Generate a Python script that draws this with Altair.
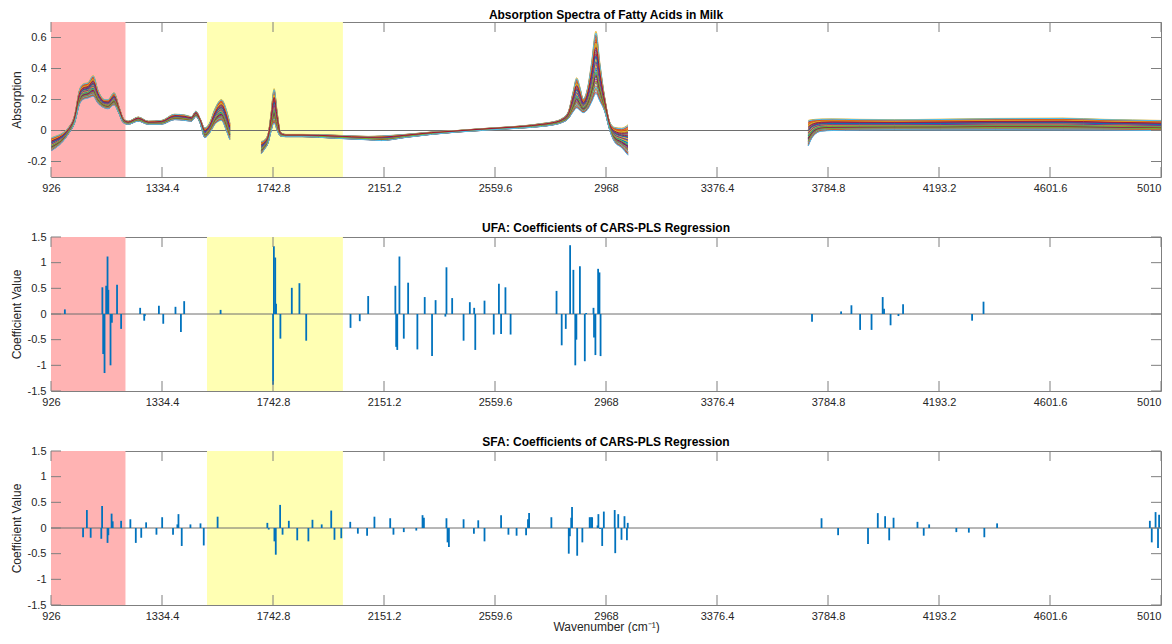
import pandas as pd
import altair as alt

# ---------------- data ----------------
X_TICKS = [926, 1334.4, 1742.8, 2151.2, 2559.6, 2968, 3376.4, 3784.8, 4193.2, 4601.6, 5010]
SPEC_Y_TICKS = [-0.2, 0, 0.2, 0.4, 0.6]
COEF_Y_TICKS = [-1.5, -1, -0.5, 0, 0.5, 1, 1.5]

REGION_START = [926, 1500]
REGION_END = [1200, 2000]
REGION_COLOR = ["#FFB3B3", "#FFFFB3"]

# spectra: upper / lower envelope of the sample band, per measured segment
SEG1_WN = [928, 945, 965, 989, 1013, 1032, 1044, 1063, 1081, 1099, 1124, 1136, 1158, 1176, 1192,
           1210, 1247, 1284, 1332, 1381, 1418, 1443, 1459, 1474, 1492, 1510, 1529, 1553, 1572, 1584]
SEG1_HI = [-0.046, -0.035, -0.02, 0.017, 0.10, 0.27, 0.30, 0.31, 0.355, 0.26, 0.20, 0.20, 0.245, 0.155, 0.08,
           0.06, 0.087, 0.06, 0.065, 0.105, 0.10, 0.09, 0.125, 0.08, 0.017, 0.05, 0.14, 0.20, 0.13, 0.05]
SEG1_LO = [-0.13, -0.11, -0.08, -0.025, 0.05, 0.175, 0.20, 0.21, 0.22, 0.175, 0.145, 0.14, 0.165, 0.11, 0.05,
           0.04, 0.06, 0.04, 0.04, 0.07, 0.065, 0.06, 0.09, 0.05, -0.046, -0.015, 0.04, 0.065, -0.005, -0.06]

SEG2_WN = [1700, 1712, 1725, 1735, 1747, 1758, 1770, 1790, 1850, 1970, 2093, 2142, 2230, 2326, 2420,
           2510, 2600, 2694, 2731, 2770, 2804, 2829, 2847, 2860, 2872, 2884, 2902, 2915, 2931, 2945,
           2964, 2982, 3000, 3025, 3049]
SEG2_HI = [-0.07, -0.06, -0.02, 0.10, 0.27, 0.12, -0.01, -0.025, -0.025, -0.03, -0.038, -0.035, -0.025, -0.01, 0.0,
           0.012, 0.022, 0.036, 0.045, 0.055, 0.075, 0.12, 0.25, 0.34, 0.28, 0.205, 0.29, 0.44, 0.64, 0.44,
           0.205, 0.054, 0.02, 0.015, 0.037]
SEG2_LO = [-0.15, -0.12, -0.08, -0.01, 0.05, 0.0, -0.035, -0.04, -0.04, -0.05, -0.06, -0.065, -0.045, -0.025, -0.01,
           0.0, 0.01, 0.02, 0.026, 0.035, 0.05, 0.075, 0.12, 0.145, 0.13, 0.115, 0.14, 0.183, 0.237, 0.19,
           0.12, 0.0, -0.075, -0.11, -0.16]

SEG3_WN = [3712, 3725, 3740, 3760, 3800, 3900, 4030, 4200, 4400, 4650, 4800, 5010]
SEG3_HI = [0.065, 0.07, 0.072, 0.074, 0.075, 0.072, 0.07, 0.073, 0.078, 0.08, 0.072, 0.065]
SEG3_LO = [-0.10, -0.05, -0.02, -0.005, 0.0, 0.003, 0.005, 0.004, 0.005, 0.004, 0.003, 0.0]

# position of each milk sample inside the band (0 = lowest, 1 = highest)
SAMPLE_POS = [0.52, 0.13, 0.88, 0.31, 0.67, 0.05, 0.94, 0.42, 0.21, 0.76, 0.58, 0.09, 0.36, 0.83,
              0.27, 0.61, 1.0, 0.17, 0.47, 0.72, 0.02, 0.39, 0.91, 0.55, 0.24, 0.79, 0.11, 0.64,
              0.33, 0.86, 0.45, 0.70, 0.19, 0.97, 0.29, 0.60, 0.07, 0.81, 0.50, 0.35, 0.0, 0.74]
MATLAB_COLORS = ["#0072BD", "#D95319", "#EDB120", "#7E2F8E", "#77AC30", "#4DBEEE", "#A2142F"]

UFA_WN = [977, 1115, 1118, 1123, 1129, 1134, 1137, 1145, 1150, 1169, 1184, 1254, 1269, 1271, 1323,
          1339, 1384, 1404, 1416, 1550, 1743, 1746, 1751, 1754, 1770, 1812, 1840, 1865, 2028, 2062,
          2093, 2193, 2196, 2200, 2208, 2224, 2240, 2274, 2301, 2328, 2341, 2377, 2381, 2402, 2444,
          2467, 2483, 2487, 2521, 2555, 2574, 2582, 2598, 2617, 2786, 2805, 2820, 2836, 2848, 2855,
          2859, 2872, 2890, 2895, 2922, 2924, 2929, 2939, 2944, 2948, 3726, 3833, 3871, 3903, 3945,
          3986, 3991, 4015, 4044, 4061, 4315, 4357]
UFA_VAL = [0.09, 0.52, -0.78, -1.15, 0.55, 1.12, 0.47, -1.0, -0.17, 0.57, -0.29, 0.12, -0.13, -0.04, 0.16,
           -0.19, 0.14, -0.35, 0.25, 0.08, -1.38, 1.32, 1.1, 0.2, -0.48, 0.51, 0.6, -0.52, -0.27, -0.14,
           0.35, 0.55, -0.64, -0.7, 1.12, -0.48, 0.61, -0.69, 0.33, -0.82, 0.27, -0.05, 0.91, 0.31, -0.52,
           0.23, 0.12, -0.7, 0.26, -0.4, 0.59, -0.39, 0.52, -0.4, 0.45, -0.61, -0.29, 1.34, 0.86, -1.0,
           -0.5, 0.93, -0.92, 0.02, 0.12, -0.46, -0.8, 0.88, 0.81, -0.82, -0.15, 0.05, 0.17, -0.31, -0.31,
           0.33, 0.1, -0.22, -0.04, 0.19, -0.13, 0.24]

SFA_WN = [1044, 1058, 1072, 1111, 1114, 1134, 1137, 1149, 1153, 1184, 1218, 1238, 1258, 1276, 1314,
          1335, 1375, 1391, 1395, 1407, 1439, 1476, 1488, 1539, 1722, 1727, 1748, 1753, 1769, 1778,
          1801, 1832, 1873, 1888, 1922, 1957, 1969, 1994, 2027, 2055, 2089, 2116, 2174, 2186, 2224,
          2270, 2293, 2298, 2381, 2385, 2390, 2444, 2482, 2498, 2521, 2582, 2609, 2639, 2674, 2681,
          2685, 2767, 2831, 2835, 2840, 2843, 2862, 2881, 2908, 2913, 2917, 2937, 2940, 2946, 2954,
          2960, 3000, 3002, 3013, 3025, 3036, 3045, 3048, 3761, 3822, 3932, 3968, 3995, 4010, 4026,
          4114, 4137, 4157, 4257, 4303, 4360, 4407, 4969, 4976, 4990, 4999, 5003]
SFA_VAL = [-0.18, 0.35, -0.19, -0.21, 0.43, -0.29, -0.14, 0.28, 0.13, 0.14, 0.17, -0.29, -0.19, 0.11, -0.13,
           0.21, -0.13, 0.07, 0.27, -0.35, 0.07, 0.09, -0.34, 0.22, 0.1, -0.03, -0.26, -0.52, 0.45, -0.13,
           0.14, -0.24, -0.26, 0.16, 0.07, 0.34, -0.23, -0.2, 0.12, -0.11, -0.15, 0.22, 0.19, -0.13, -0.08,
           -0.05, 0.25, 0.2, 0.19, -0.28, -0.37, 0.17, -0.11, 0.15, -0.26, 0.25, -0.13, -0.15, -0.14, 0.17,
           0.29, 0.21, -0.5, -0.16, 0.2, 0.41, -0.54, -0.28, 0.21, 0.21, 0.21, 0.05, 0.27, -0.02, -0.35,
           0.32, 0.35, -0.49, 0.27, -0.23, 0.23, -0.24, 0.1, 0.19, -0.14, -0.31, 0.29, 0.23, -0.24, 0.2,
           0.12, -0.15, 0.07, -0.08, -0.09, -0.18, 0.09, 0.14, -0.28, 0.31, -0.39, 0.26]

# ---------------- tables ----------------
segments = [(SEG1_WN, SEG1_HI, SEG1_LO), (SEG2_WN, SEG2_HI, SEG2_LO), (SEG3_WN, SEG3_HI, SEG3_LO)]
rows = []
for si, pos in enumerate(SAMPLE_POS):
    for sg, (wns, his, los) in enumerate(segments):
        for x, h, l in zip(wns, his, los):
            rows.append({"wn": x, "val": l + pos * (h - l), "key": f"{si}-{sg}", "ci": str(si % 7)})
spec_df = pd.DataFrame(rows)

regions_df = pd.DataFrame({"wn": REGION_START, "wn2": REGION_END, "c": REGION_COLOR})
ufa_df = pd.DataFrame({"wn": UFA_WN, "val": UFA_VAL})
sfa_df = pd.DataFrame({"wn": SFA_WN, "val": SFA_VAL})
xt_df = pd.DataFrame({"wn": X_TICKS})
zero_df = pd.DataFrame({"val": [0]})

W = 1110
AX = "#7f7f7f"
FONT = "Liberation Sans"
TICK = 10
LAST_LABEL_ALIGN = {"condition": {"test": "datum.value >= 5010", "value": "right"}, "value": "center"}


def make_panel(H, title, y_domain, y_ticks, ytitle, body_layers, xtitle=None, title_dy=0):
    xaxis_kwargs = dict(values=X_TICKS, labelExpr="'' + datum.value", labelPadding=5,
                        labelFlush=False, labelOverlap=False, labelAlign=LAST_LABEL_ALIGN)
    if xtitle:
        X = alt.X("wn:Q", scale=alt.Scale(domain=[926, 5010], nice=False, zero=False),
                  axis=alt.Axis(title=xtitle, titlePadding=0, **xaxis_kwargs), title=xtitle)
    else:
        X = alt.X("wn:Q", scale=alt.Scale(domain=[926, 5010], nice=False, zero=False),
                  axis=alt.Axis(title=None, **xaxis_kwargs), title=None)
    Y = alt.Y("val:Q", scale=alt.Scale(domain=y_domain, nice=False, zero=False),
              axis=alt.Axis(values=y_ticks, labelExpr="'' + datum.value", labelPadding=5,
                            title=ytitle, titleX=-31, titleY=H / 2, titleAngle=270,
                            titleAlign="center", titleBaseline="alphabetic"),
              title=ytitle)
    yt_df = pd.DataFrame({"val": y_ticks})

    rects = alt.Chart(regions_df).mark_rect().encode(
        x=X, x2="wn2:Q", y=alt.value(0), y2=alt.value(H),
        color=alt.Color("c:N", scale=None))
    zero = alt.Chart(zero_df).mark_rule(color="#6e6e6e", strokeWidth=1).encode(y=Y)
    layers = [rects, zero] + [lay(X, Y) for lay in body_layers]
    # inward ticks, MATLAB style, on all four sides
    layers += [
        alt.Chart(xt_df).mark_rule(color=AX, strokeWidth=1).encode(x=X, y=alt.value(0), y2=alt.value(TICK)),
        alt.Chart(xt_df).mark_rule(color=AX, strokeWidth=1).encode(x=X, y=alt.value(H - TICK), y2=alt.value(H)),
        alt.Chart(yt_df).mark_rule(color=AX, strokeWidth=1).encode(y=Y, x=alt.value(0), x2=alt.value(TICK)),
        alt.Chart(yt_df).mark_rule(color=AX, strokeWidth=1).encode(y=Y, x=alt.value(W - TICK), x2=alt.value(W)),
    ]
    return alt.layer(*layers).properties(
        width=W, height=H,
        title=alt.TitleParams(title, fontSize=12, fontWeight="bold", anchor="middle", offset=0,
                              dy=title_dy, font=FONT, color="#000000"))


def spectra_layer(X, Y):
    return alt.Chart(spec_df).mark_line(strokeWidth=1, interpolate="monotone").encode(
        x=X, y=Y, detail="key:N",
        color=alt.Color("ci:N", scale=alt.Scale(domain=[str(i) for i in range(7)], range=MATLAB_COLORS),
                        legend=None))


def stem_layer(df):
    def f(X, Y):
        return alt.Chart(df).mark_rule(color="#0072BD", strokeWidth=1.8).encode(x=X, y=Y, y2=alt.datum(0))
    return f


p1 = make_panel(155, "Absorption Spectra of Fatty Acids in Milk", [-0.3, 0.7], SPEC_Y_TICKS,
                "Absorption", [spectra_layer])
p2 = make_panel(154, "UFA: Coefficients of CARS-PLS Regression", [-1.5, 1.5], COEF_Y_TICKS,
                "Coefficient Value", [stem_layer(ufa_df)], title_dy=4)
p3 = make_panel(154, "SFA: Coefficients of CARS-PLS Regression", [-1.5, 1.5], COEF_Y_TICKS,
                "Coefficient Value", [stem_layer(sfa_df)], xtitle="Wavenumber (cm⁻¹)", title_dy=4)

chart = alt.vconcat(p1, p2, p3, spacing=60, bounds="flush").properties(
    padding={"left": 1, "top": 0, "right": 0, "bottom": 0}
).configure_view(
    stroke=AX, strokeWidth=1
).configure_axis(
    domain=False, ticks=False, tickSize=0, grid=False,
    labelFont=FONT, labelFontSize=11, labelColor="#262626",
    titleFont=FONT, titleFontSize=12, titleFontWeight="normal", titleColor="#262626"
).configure_concat(spacing=60)

chart.save("out.html", embed_options={"renderer": "svg", "actions": False})
